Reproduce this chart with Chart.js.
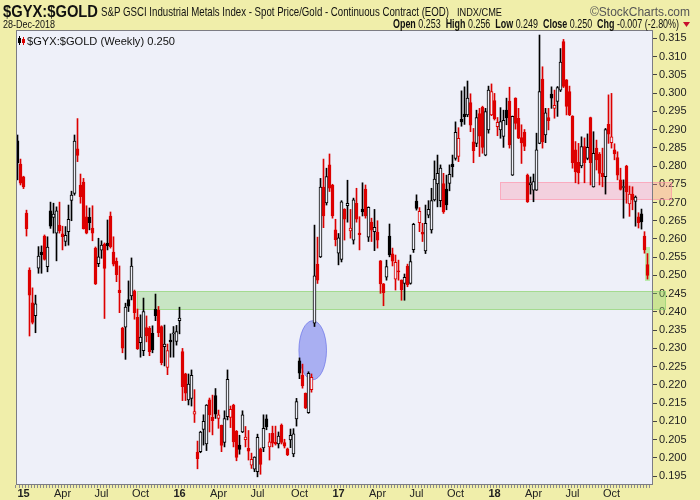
<!DOCTYPE html>
<html>
<head>
<meta charset="utf-8">
<title>$GYX:$GOLD Weekly</title>
<script src="https://cdn.jsdelivr.net/npm/chart.js@4.4.1/dist/chart.umd.min.js"></script>
<style>
  html, body { margin: 0; padding: 0; background: #f0eeaa; }
  #wrap { width: 700px; height: 500px; }
</style>
</head>
<body>
<div id="wrap"><canvas id="chart" width="700" height="500"></canvas></div>
<script>
// Weekly candles, Dec 2014 .. 28-Dec-2018
const opens = [
  .2869,.2805,.2770,.2671,.2515,.2425,.2390,.2520,.2564,.2608,
  .2524,.2677,.2659,.2616,.2638,.2614,.2593,.2620,.2706,.2725,
  .2847,.2748,.2756,.2661,.2659,.2630,.2575,.2532,.2569,.2586,
  .2589,.2663,.2564,.2539,.2460,.2356,.2358,.2434,.2444,.2457,
  .2385,.2316,.2294,.2357,.2355,.2341,.2407,.2405,.2360,.2305,
  .2248,.2323,.2340,.2319,.2376,.2291,.2230,.2159,.2163,.2120,
  .2016,.2017,.2078,.2038,.2159,.2111,.2171,.2108,.2089,.2042,
  .2113,.2111,.2145,.2073,.2035,.2071,.2050,.2026,.1980,.1969,
  .1962,.2025,.2027,.2107,.2030,.2067,.2043,.2038,.2090,.2042,
  .2025,.2049,.2011,.2107,.2266,.2227,.2177,.2124,.2187,.2369,
  .2531,.2551,.2742,.2699,.2803,.2748,.2625,.2561,.2544,.2681,
  .2691,.2622,.2597,.2698,.2616,.2682,.2737,.2605,.2646,.2620,
  .2619,.2540,.2477,.2495,.2608,.2559,.2490,.2513,.2487,.2478,
  .2526,.2478,.2571,.2704,.2645,.2618,.2567,.2665,.2625,.2707,
  .2751,.2705,.2752,.2737,.2752,.2805,.2821,.2826,.2928,.2942,
  .2940,.2974,.2866,.2862,.2944,.2961,.2830,.2899,.2940,.2979,
  .2908,.2899,.2881,.2953,.2978,.2775,.2986,.2931,.2878,.2892,
  .2775,.2748,.2734,.2734,.2862,.3038,.2885,.2933,.2997,.2958,
  .2977,.3008,.3141,.3036,.3004,.2937,.2844,.2810,.2800,.2853,
  .2821,.2933,.2743,.2849,.2833,.2780,.2771,.2914,.2864,.2844,
  .2823,.2762,.2741,.2800,.2696,.2723,.2703,.2661,.2669,.2608,
  .2530
];
const highs = [
  .2885,.2819,.2772,.2679,.2521,.2466,.2446,.2579,.2581,.2611,
  .2606,.2701,.2698,.2688,.2701,.2635,.2634,.2693,.2731,.2885,
  .2930,.2778,.2766,.2691,.2685,.2691,.2578,.2602,.2595,.2589,
  .2652,.2674,.2606,.2548,.2526,.2358,.2424,.2485,.2548,.2460,
  .2408,.2392,.2438,.2389,.2360,.2362,.2449,.2415,.2362,.2364,
  .2312,.2340,.2360,.2363,.2413,.2300,.2232,.2230,.2241,.2187,
  .2046,.2073,.2118,.2146,.2164,.2172,.2190,.2131,.2090,.2129,
  .2241,.2142,.2147,.2075,.2062,.2129,.2086,.2075,.2013,.2003,
  .2065,.2027,.2118,.2118,.2067,.2087,.2087,.2071,.2093,.2051,
  .2027,.2079,.2080,.2163,.2274,.2257,.2178,.2236,.2230,.2638,
  .2605,.2766,.2819,.2794,.2833,.2750,.2654,.2615,.2705,.2683,
  .2761,.2681,.2712,.2739,.2661,.2754,.2748,.2688,.2657,.2681,
  .2650,.2541,.2478,.2542,.2641,.2575,.2556,.2542,.2488,.2504,
  .2531,.2556,.2643,.2721,.2686,.2643,.2693,.2705,.2739,.2814,
  .2830,.2803,.2780,.2775,.2803,.2830,.2921,.2905,.3006,.3017,
  .3033,.2998,.2903,.2953,.2958,.2964,.2958,.3019,.3025,.2999,
  .2933,.2960,.2953,.2986,.3016,.2937,.2987,.2958,.2913,.2900,
  .2778,.2770,.2778,.2890,.3159,.3072,.2958,.2958,.3017,.3008,
  .3018,.3122,.3147,.3037,.3019,.2938,.2867,.2862,.2880,.2877,
  .2888,.2934,.2894,.2871,.2837,.2849,.2903,.2995,.2999,.2861,
  .2839,.2794,.2762,.2802,.2745,.2743,.2718,.2672,.2682,.2620,
  .2560
];
const lows = [
  .2762,.2748,.2738,.2608,.2334,.2367,.2343,.2506,.2506,.2542,
  .2510,.2629,.2616,.2540,.2616,.2570,.2581,.2583,.2650,.2720,
  .2812,.2698,.2627,.2614,.2625,.2595,.2475,.2524,.2547,.2382,
  .2570,.2575,.2526,.2483,.2398,.2288,.2270,.2401,.2433,.2380,
  .2297,.2276,.2280,.2318,.2280,.2288,.2376,.2332,.2255,.2252,
  .2228,.2276,.2276,.2309,.2340,.2157,.2157,.2145,.2142,.2097,
  .1970,.2014,.2035,.2020,.2071,.2063,.2108,.2081,.2017,.2030,
  .2104,.2083,.2030,.1992,.2010,.2069,.2030,.1994,.1971,.1962,
  .1948,.1955,.2017,.2077,.1994,.2030,.2035,.2027,.2038,.2027,
  .2006,.2028,.2003,.2087,.2217,.2191,.2135,.2122,.2180,.2360,
  .2478,.2549,.2631,.2693,.2730,.2657,.2581,.2529,.2537,.2597,
  .2646,.2602,.2586,.2646,.2570,.2663,.2657,.2593,.2593,.2568,
  .2575,.2451,.2417,.2487,.2551,.2526,.2460,.2487,.2432,.2432,
  .2469,.2476,.2563,.2679,.2620,.2593,.2560,.2658,.2616,.2704,
  .2688,.2688,.2670,.2680,.2732,.2770,.2816,.2812,.2909,.2914,
  .2935,.2894,.2809,.2853,.2826,.2835,.2828,.2890,.2938,.2926,
  .2883,.2876,.2851,.2913,.2849,.2774,.2901,.2875,.2807,.2842,
  .2700,.2723,.2702,.2733,.2861,.2849,.2864,.2899,.2958,.2931,
  .2936,.3004,.3015,.2940,.2938,.2794,.2754,.2751,.2795,.2754,
  .2817,.2748,.2742,.2789,.2748,.2743,.2723,.2862,.2849,.2817,
  .2762,.2734,.2657,.2698,.2662,.2680,.2635,.2630,.2627,.2561,
  .2490
];
const closes = [
  .2809,.2753,.2743,.2628,.2446,.2371,.2422,.2553,.2556,.2544,
  .2578,.2635,.2668,.2677,.2622,.2606,.2610,.2654,.2720,.2868,
  .2829,.2716,.2628,.2616,.2645,.2616,.2477,.2551,.2583,.2519,
  .2581,.2579,.2531,.2502,.2453,.2301,.2413,.2416,.2526,.2398,
  .2299,.2331,.2401,.2334,.2291,.2296,.2390,.2343,.2261,.2312,
  .2294,.2318,.2343,.2346,.2383,.2195,.2177,.2202,.2226,.2127,
  .1998,.2071,.2100,.2145,.2118,.2102,.2120,.2118,.2034,.2108,
  .2215,.2133,.2044,.2001,.2023,.2118,.2057,.2018,.1996,.2002,
  .2056,.1982,.2081,.2085,.2044,.2040,.2038,.2060,.2042,.2032,
  .2009,.2062,.2066,.2154,.2232,.2197,.2137,.2232,.2221,.2499,
  .2487,.2742,.2663,.2771,.2739,.2663,.2598,.2603,.2702,.2654,
  .2698,.2630,.2707,.2654,.2612,.2674,.2663,.2687,.2624,.2632,
  .2597,.2477,.2453,.2524,.2556,.2539,.2536,.2510,.2460,.2495,
  .2474,.2538,.2640,.2684,.2676,.2613,.2643,.2681,.2705,.2764,
  .2780,.2794,.2674,.2693,.2777,.2798,.2892,.2876,.2921,.2935,
  .2986,.2912,.2842,.2933,.2882,.2851,.2949,.3008,.3004,.2930,
  .2920,.2922,.2925,.2932,.2858,.2936,.2917,.2876,.2863,.2854,
  .2702,.2754,.2757,.2844,.3004,.2866,.2946,.2924,.2986,.2966,
  .3015,.3085,.3018,.2963,.2940,.2809,.2784,.2781,.2853,.2809,
  .2851,.2809,.2835,.2817,.2780,.2771,.2900,.2887,.2880,.2833,
  .2775,.2736,.2743,.2729,.2723,.2707,.2715,.2645,.2647,.2570,
  .2500
];

// x-axis: week index of the first bar of each labelled month
const monthTickWeeks = [2, 15, 28, 41, 54, 67, 80, 94, 107, 120, 133, 146, 159, 172, 185, 198];
const monthTickText = ['15', 'Apr', 'Jul', 'Oct', '16', 'Apr', 'Jul', 'Oct', '17', 'Apr', 'Jul', 'Oct', '18', 'Apr', 'Jul', 'Oct'];
const yearTicks = ['15', '16', '17', '18'];
const priceTicks = [0.195, 0.200, 0.205, 0.210, 0.215, 0.220, 0.225, 0.230, 0.235, 0.240,
  0.245, 0.250, 0.255, 0.260, 0.265, 0.270, 0.275, 0.280, 0.285, 0.290,
  0.295, 0.300, 0.305, 0.310, 0.315];

// annotations drawn on the chart (week index, price)
const supportZone = [39.9, 0.2405, 0.2457];     // start week, low, high
const resistanceZone = [160.8, 0.2706, 0.2757];
const gapEllipse = [98.4, 0.2295, 4.6, 0.0081];  // centre week, centre price, half width (weeks), half height
const lastBarBox = [209.2, 210.8, 0.2485, 0.2578];

const FONT = '"Liberation Sans", Arial, sans-serif';
const RED = '#dd0000';
const BLACK = '#000000';
const PLOT_BG = '#eef0f9';
const PAGE_BG = '#f0eeaa';

const weekIdx = closes.map((_, i) => i);
// StockCharts rule: red when close < previous close, hollow when close > open
const candleColor = closes.map((c, i) => (i > 0 && c < closes[i - 1]) ? RED : BLACK);
const bodyFill = closes.map((c, i) => c > opens[i] ? PLOT_BG : candleColor[i]);

// draw a line of text runs squeezed into a given width
function drawRuns(ctx, runs, x, y, width) {
  let total = 0;
  runs.forEach((r) => { ctx.font = r[1]; total += ctx.measureText(r[0]).width; });
  ctx.save();
  ctx.translate(x, y);
  ctx.scale(width / total, 1);
  ctx.textBaseline = 'alphabetic';
  ctx.textAlign = 'left';
  let cx = 0;
  runs.forEach((r) => {
    ctx.font = r[1];
    ctx.fillStyle = r[2] || '#111';
    ctx.fillText(r[0], cx, 0);
    cx += ctx.measureText(r[0]).width;
  });
  ctx.restore();
}

const decor = {
  id: 'decor',
  beforeDraw(chart) {
    const { ctx, chartArea: a } = chart;
    ctx.save();
    ctx.fillStyle = PAGE_BG;
    ctx.fillRect(0, 0, chart.width, chart.height);
    ctx.fillStyle = PLOT_BG;
    ctx.fillRect(a.left, a.top, a.right - a.left, a.bottom - a.top);
    ctx.restore();
  },
  beforeDatasetsDraw(chart) {
    const { ctx, chartArea: a, scales: { x, y } } = chart;
    ctx.save();
    const zone = (z, fill, line, ext) => {
      const x0 = Math.round(x.getPixelForValue(z[0]));
      const x1 = a.right + ext;
      const y0 = Math.round(y.getPixelForValue(z[2]));
      const y1 = Math.round(y.getPixelForValue(z[1]));
      ctx.fillStyle = fill;
      ctx.fillRect(x0, y0, x1 - x0, y1 - y0);
      ctx.strokeStyle = line;
      ctx.lineWidth = 1;
      ctx.strokeRect(x0 + 0.5, y0 + 0.5, x1 - x0 - 1, y1 - y0 - 1);
    };
    zone(supportZone, 'rgba(140,210,110,0.38)', 'rgba(140,210,110,0.6)', 13);
    zone(resistanceZone, 'rgba(255,140,165,0.32)', 'rgba(255,140,165,0.55)', 19);

    // gap ellipse
    const cx = x.getPixelForValue(gapEllipse[0]);
    const cy = y.getPixelForValue(gapEllipse[1]);
    const rx = Math.abs(x.getPixelForValue(gapEllipse[0] + gapEllipse[2]) - cx);
    const ry = Math.abs(y.getPixelForValue(gapEllipse[1] + gapEllipse[3]) - cy);
    ctx.beginPath();
    ctx.ellipse(cx, cy, rx, ry, 0, 0, Math.PI * 2);
    ctx.fillStyle = 'rgba(100,110,236,0.5)';
    ctx.fill();
    ctx.strokeStyle = 'rgba(90,100,230,0.6)';
    ctx.stroke();

    // last bar highlight
    const bx0 = Math.round(x.getPixelForValue(lastBarBox[0]));
    const bx1 = Math.round(x.getPixelForValue(lastBarBox[1]));
    const by0 = Math.round(y.getPixelForValue(lastBarBox[3]));
    const by1 = Math.round(y.getPixelForValue(lastBarBox[2]));
    ctx.fillStyle = 'rgba(150,230,120,0.6)';
    ctx.fillRect(bx0, by0, bx1 - bx0, by1 - by0);
    ctx.restore();
  },
  afterDatasetsDraw(chart) {
    const { ctx, chartArea: a } = chart;
    ctx.save();
    ctx.strokeStyle = '#7c7c84';
    ctx.lineWidth = 1;
    ctx.strokeRect(a.left + 0.5, a.top + 0.5, a.right - a.left - 1, a.bottom - a.top - 1);

    // legend: small candle icon + text
    ctx.fillStyle = BLACK;
    ctx.fillRect(19, 36, 1, 9);
    ctx.fillRect(18, 38, 3, 5);
    ctx.fillStyle = RED;
    ctx.fillRect(23, 37, 1, 8);
    ctx.fillRect(22, 39, 3, 4);
    ctx.restore();
    drawRuns(ctx, [['$GYX:$GOLD (Weekly) 0.250', `11px ${FONT}`, '#111']], 27, 45, 148);
  },
  afterDraw(chart) {
    const ctx = chart.ctx;
    drawRuns(ctx, [['$GYX:$GOLD', `bold 17px ${FONT}`, '#111']], 3, 17, 95);
    drawRuns(ctx, [['S&P GSCI Industrial Metals Index - Spot Price/Gold - Continuous Contract (EOD)', `13px ${FONT}`, '#111']], 101, 16, 348);
    drawRuns(ctx, [['INDX/CME', `11px ${FONT}`, '#111']], 457, 16, 45);
    drawRuns(ctx, [['\u00A9StockCharts.com', `13px ${FONT}`, '#555']], 590, 16, 100);
    drawRuns(ctx, [['28-Dec-2018', `11px ${FONT}`, '#111']], 3, 28, 52);
    drawRuns(ctx, [
      ['Open ', `bold 12px ${FONT}`], ['0.253  ', `12px ${FONT}`],
      ['High ', `bold 12px ${FONT}`], ['0.256  ', `12px ${FONT}`],
      ['Low ', `bold 12px ${FONT}`], ['0.249  ', `12px ${FONT}`],
      ['Close ', `bold 12px ${FONT}`], ['0.250  ', `12px ${FONT}`],
      ['Chg ', `bold 12px ${FONT}`], ['-0.007 (-2.80%)', `12px ${FONT}`]
    ], 393, 28, 286);
    ctx.save();
    ctx.fillStyle = '#c8102e';
    ctx.beginPath();
    ctx.moveTo(683, 22);
    ctx.lineTo(690, 22);
    ctx.lineTo(686.5, 27);
    ctx.closePath();
    ctx.fill();
    ctx.restore();
  }
};

new Chart(document.getElementById('chart'), {
  type: 'bar',
  data: {
    datasets: [
      {
        label: 'body',
        data: weekIdx.map((i) => ({ x: i, y: [opens[i], closes[i]] })),
        backgroundColor: bodyFill,
        borderColor: candleColor,
        borderWidth: 1,
        borderSkipped: false,
        barThickness: 3,
        minBarLength: 1,
        grouped: false,
        order: 1,
      },
      {
        label: 'wick',
        data: weekIdx.map((i) => ({ x: i, y: [lows[i], highs[i]] })),
        backgroundColor: candleColor,
        borderWidth: 0,
        barThickness: 1,
        grouped: false,
        order: 2,
      },
    ],
  },
  options: {
    responsive: false,
    devicePixelRatio: 1,
    animation: false,
    layout: { padding: { left: 16, top: 30, right: 0, bottom: 0 } },
    scales: {
      x: {
        type: 'linear',
        min: -0.5,
        max: 211.833,
        offset: false,
        border: { display: false },
        grid: { drawOnChartArea: false, drawTicks: true, tickLength: 3, tickColor: '#8a8a90' },
        afterBuildTicks: (s) => { s.ticks = weekIdx.map((v) => ({ value: v })); },
        afterFit: (s) => { s.height = 15; },
        ticks: {
          autoSkip: false,
          maxRotation: 0,
          minRotation: 0,
          padding: -1,
          color: '#222',
          font: (c) => {
            const k = c.tick ? monthTickWeeks.indexOf(c.tick.value) : -1;
            const bold = k >= 0 && yearTicks.includes(monthTickText[k]);
            return { family: FONT, size: 11, weight: bold ? 'bold' : 'normal' };
          },
          callback: (v) => {
            const k = monthTickWeeks.indexOf(v);
            return k < 0 ? '' : monthTickText[k];
          },
        },
      },
      y: {
        position: 'right',
        min: 0.19256,
        max: 0.31728,
        border: { display: false },
        grid: { drawOnChartArea: false, drawTicks: true, tickLength: 4, tickColor: '#444' },
        afterBuildTicks: (s) => { s.ticks = priceTicks.map((v) => ({ value: v })); },
        afterFit: (s) => { s.width = 47; },
        ticks: {
          padding: 2,
          color: '#222',
          font: { family: FONT, size: 11 },
          callback: (v) => v.toFixed(3),
        },
      },
    },
    plugins: {
      legend: { display: false },
      tooltip: { enabled: false },
    },
  },
  plugins: [decor],
});
</script>
</body>
</html>
